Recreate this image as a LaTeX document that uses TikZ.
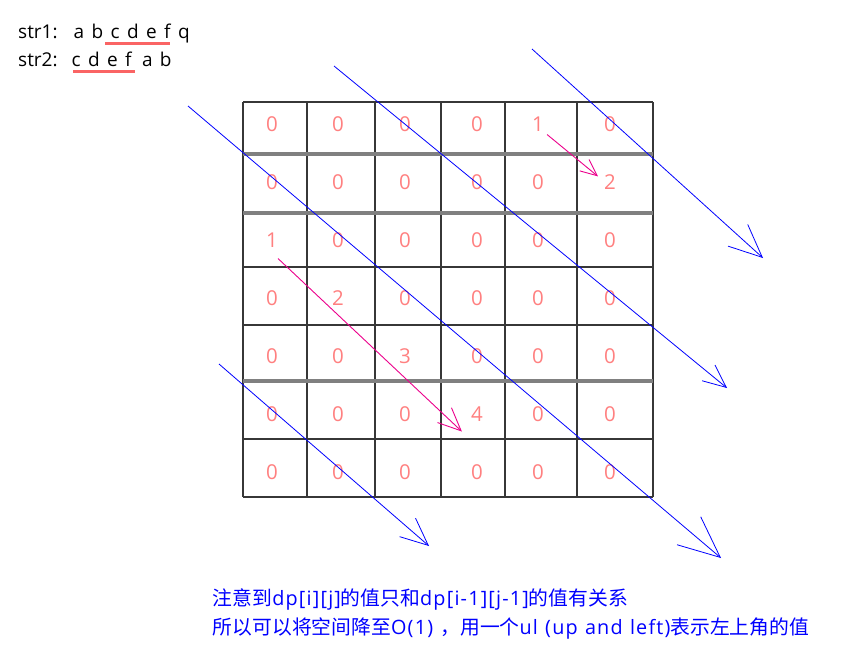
\documentclass[tikz,border=0pt]{standalone}
\usepackage{fontspec}
\setmainfont{Open Sans}
\newfontfamily\cjk{Noto Sans CJK SC}
\newfontfamily\notelat[LetterSpace=6,WordSpace=1.15]{Open Sans}
\newfontfamily\strfont[WordSpace=1.5]{Open Sans}
\newcommand\lat[1]{{\notelat #1}}
\usetikzlibrary{arrows.meta}
\definecolor{cellred}{RGB}{255,128,128}
\definecolor{markred}{RGB}{250,100,100}
\definecolor{gridgray}{RGB}{128,128,128}
\definecolor{griddark}{RGB}{55,55,55}
\begin{document}
\begin{tikzpicture}[x=1pt,y=-1pt,
        cell/.style = {text=cellred,font=\fontsize{20.5}{24}\selectfont,inner sep=3pt},
        thinrule/.style = {griddark,line width=1.8pt},
        thickrule/.style = {gridgray,line width=3.5pt},
        diag/.style = {blue,line width=0.8pt,-{Straight Barb[angle=48:#1]}},
        hint/.style = {magenta,line width=0.9pt,-{Straight Barb[angle=48:#1]}},
        strline/.style = {anchor=base west,inner sep=0pt,font=\strfont\fontsize{19}{22}\selectfont},
        note/.style = {anchor=base west,inner sep=0pt,text=blue,font=\cjk\fontsize{19.8}{24}\selectfont}]
    \fill[white] (0,0) rectangle (856,651);
    \useasboundingbox (0,0) rectangle (856,651);

    % the two strings
    \node[strline] (str1) at (18,38.3) {str1:\hspace{16pt}a b c d e f q};
    \node[strline] (str2) at (18,66.7) {str2:\hspace{14pt}c d e f\hspace{3pt} a b};
    \draw[markred,line width=2.5pt] (105,43.3) -- (170,43.3);
    \draw[markred,line width=2.5pt] (73,71.7) -- (135,71.7);

    % table
    \foreach \gx in {243,307,375,441,505,577,653}
        \draw[thinrule] (\gx,102) -- (\gx,497);
    \foreach \gy in {102,267,325,439,497}
        \draw[thinrule] (243,\gy) -- (653,\gy);
    \foreach \gy in {154,213,381}
        \draw[thickrule] (243,\gy) -- (653,\gy);

    \foreach \vals [count=\r from 0] in {{0,0,0,0,1,0},{0,0,0,0,0,2},{1,0,0,0,0,0},
            {0,2,0,0,0,0},{0,0,3,0,0,0},{0,0,0,4,0,0},{0,0,0,0,0,0}}
        \foreach \v [count=\c from 0] in \vals {
            \pgfmathsetmacro\cx{{272,338,405,477,538,610}[\c]}
            \node[cell] (c-\r-\c) at (\cx,{124+58*\r}) {\v};
        }

    % diagonals
    \coordinate (d1s) at (188,106);  \coordinate (d1e) at (721,558);
    \coordinate (d2s) at (334,66);   \coordinate (d2e) at (727,388);
    \coordinate (d3s) at (532,49);   \coordinate (d3e) at (763,258);
    \coordinate (d4s) at (219,364);  \coordinate (d4e) at (429,546);
    \draw[diag=45pt] (d1s) -- (d1e);
    \draw[diag=25pt] (d2s) -- (d2e);
    \draw[diag=36pt] (d3s) -- (d3e);
    \draw[diag=30pt] (d4s) -- (d4e);

    \draw[hint=18pt] (c-0-4.south east) -- ([shift={(-3,5)}]c-1-5.north west);
    \draw[hint=25pt] ([shift={(6,8)}]c-2-0.south) -- ([shift={(-6,7)}]c-5-3.south west);

    % note
    \node[note] (note1) at (212.7,605)
        {注意到\lat{dp[i][j]}的值只和\lat{dp[i-1][j-1]}的值有关系};
    \node[note] (note2) at (212.7,634)
        {所以可以将空间降至\lat{O(1) }，用一个\lat{ul (up and left)}表示左上角的值};
\end{tikzpicture}
\end{document}
